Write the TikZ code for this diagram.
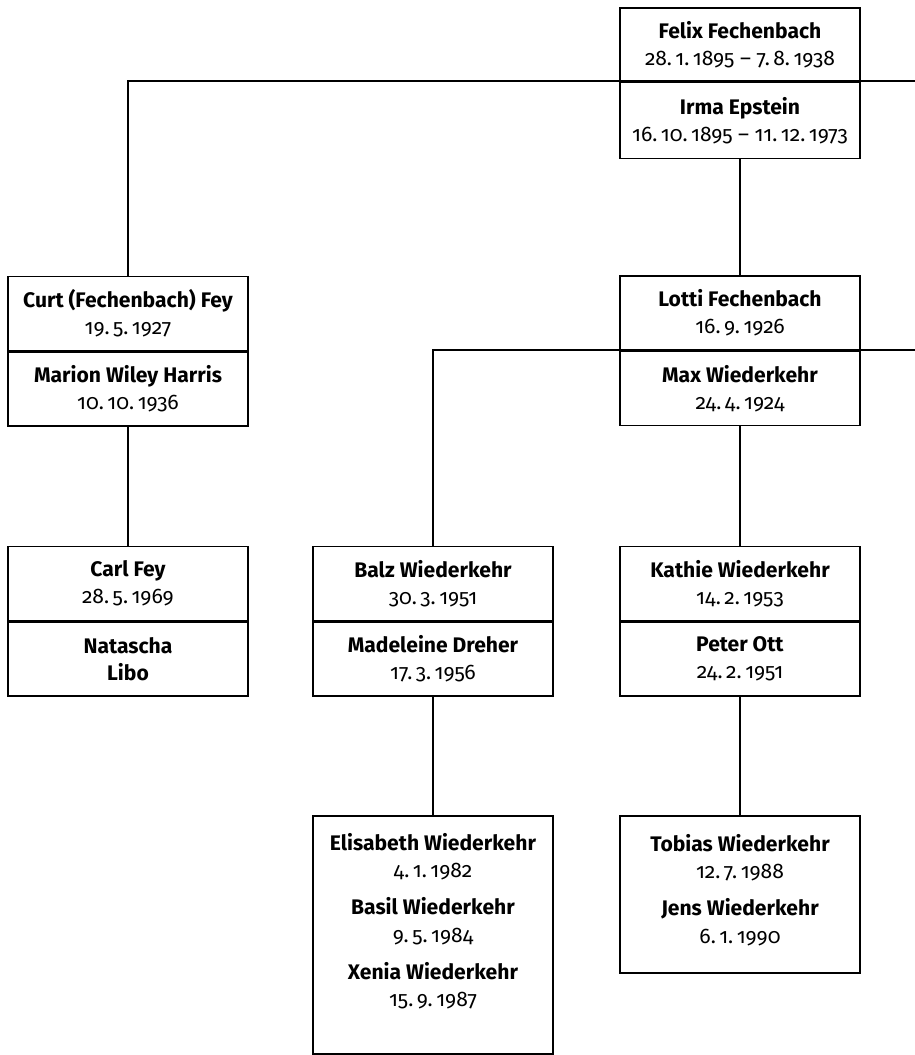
\documentclass[tikz,border=0pt]{standalone}
\usepackage{fontspec}
\setmainfont{Fira Sans}[Numbers=OldStyle]
\usetikzlibrary{positioning}

\begin{document}
\begin{tikzpicture}[x=0.02cm,y=-0.02cm,line width=0.9pt,
  every node/.style={draw,line width=0.9pt,minimum width=4.8cm,minimum height=1.48cm,
    align=center,inner sep=2pt,font=\fontsize{12}{15.5}\selectfont}]
  \useasboundingbox (0,0) rectangle (915,1055);
  % grandparents
  \node (felix) at (740,44.5)[minimum height=1.46cm]{\textbf{Felix Fechenbach}\\28.\,1.\,1895 -- 7.\,8.\,1938};
  \node[below=0pt of felix,minimum height=1.52cm] (irma){\textbf{Irma Epstein}\\16.\,10.\,1895 -- 11.\,12.\,1973};
  % children
  \node (curt) at (128,313.5){\textbf{Curt (Fechenbach) Fey}\\19.\,5.\,1927};
  \node[below=0pt of curt] (marion){\textbf{Marion Wiley Harris}\\10.\,10.\,1936};
  \node (lotti) at (740,313){\textbf{Lotti Fechenbach}\\16.\,9.\,1926};
  \node[below=0pt of lotti] (max){\textbf{Max Wiederkehr}\\24.\,4.\,1924};
  % grandchildren
  \node (carl) at (128,583.5){\textbf{Carl Fey}\\28.\,5.\,1969};
  \node[below=0pt of carl] (natascha){\textbf{Natascha}\\\textbf{Libo}};
  \node (balz) at (433,583.5){\textbf{Balz Wiederkehr}\\30.\,3.\,1951};
  \node[below=0pt of balz] (madeleine){\textbf{Madeleine Dreher}\\17.\,3.\,1956};
  \node (kathie) at (740,583.5){\textbf{Kathie Wiederkehr}\\14.\,2.\,1953};
  \node[below=0pt of kathie] (peter){\textbf{Peter Ott}\\24.\,2.\,1951};
  % great-grandchildren
  \node[anchor=north,minimum height=4.76cm] (kids1) at (433,815){\textbf{Elisabeth Wiederkehr}\\4.\,1.\,1982\\[0.2cm]
    \textbf{Basil Wiederkehr}\\9.\,5.\,1984\\[0.2cm]\textbf{Xenia Wiederkehr}\\15.\,9.\,1987\\[0.05cm]\mbox{}};
  \node[anchor=north,minimum height=3.14cm] (kids2) at (740,815){\textbf{Tobias Wiederkehr}\\12.\,7.\,1988\\[0.2cm]
    \textbf{Jens Wiederkehr}\\6.\,1.\,1990\\[-0.32cm]\mbox{}};
  \coordinate (felixout) at (915,81);
  \coordinate (lottiout) at (915,350);
  \draw (curt.north) |- (felixout);
  \draw (irma)--(lotti);
  \draw (balz.north) |- (lottiout);
  \draw (marion)--(carl);
  \draw (max)--(kathie);
  \draw (madeleine)--(kids1);
  \draw (peter)--(kids2);
\end{tikzpicture}
\end{document}
